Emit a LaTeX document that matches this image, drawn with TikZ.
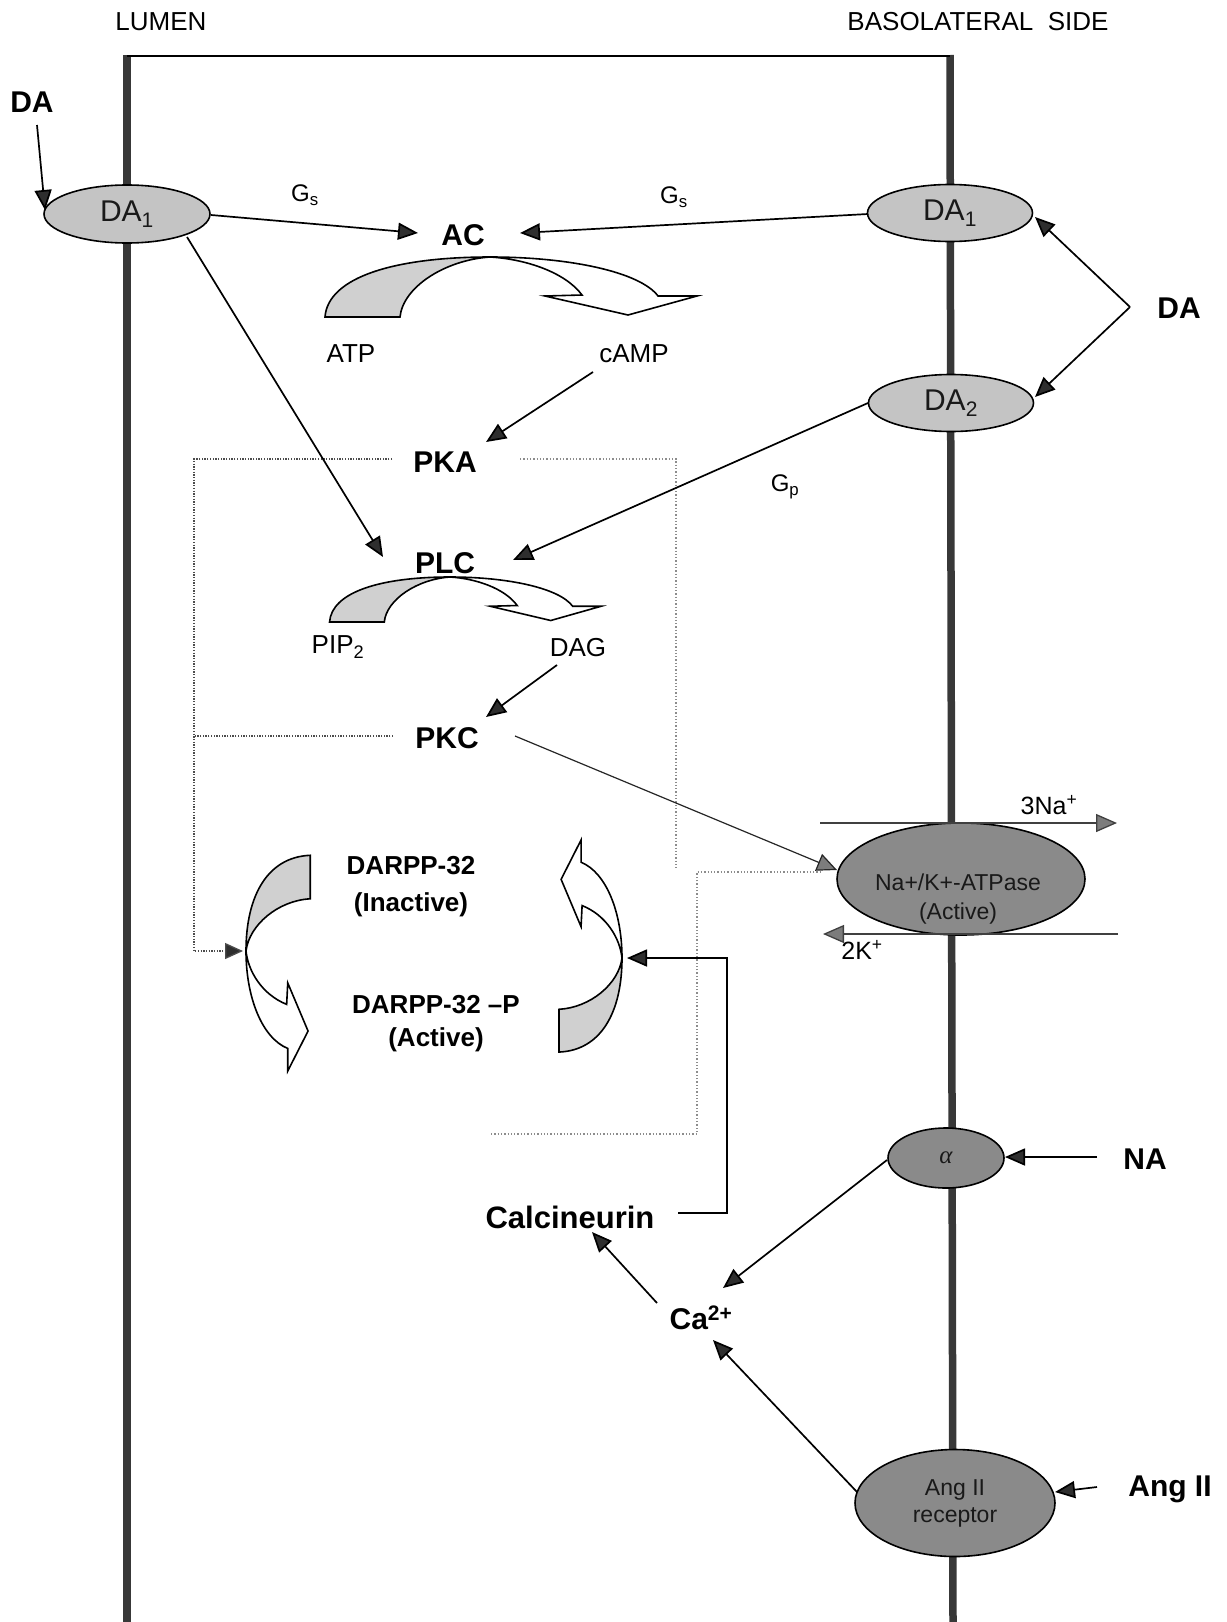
\documentclass[tikz,border=0pt]{standalone}
\usepackage{fontspec}
\setmainfont{Liberation Sans}
\newfontfamily\grserif{Liberation Serif}
\usetikzlibrary{shapes.geometric,arrows.meta,calc}
\definecolor{cLight}{HTML}{C4C4C4}
\definecolor{cDark}{HTML}{8A8A8A}
\definecolor{cMemb}{HTML}{383838}
\definecolor{cTip}{HTML}{2E2E2E}
\definecolor{cGrayTip}{HTML}{7C7C7C}
\definecolor{cShade}{HTML}{D0D0D0}
\newcommand{\twistarrow}{%
 \filldraw[twline, fill=cShade] (-165,60) .. controls (-162,20) and (-95,0) .. (0,0) .. controls (-45,3) and (-87,30) .. (-90,60) -- cycle;
 \filldraw[twline, fill=white] (0,0) .. controls (35,2) and (75,15) .. (92,38) -- (55,39) -- (138,58) -- (207,39) -- (168,39) .. controls (150,15) and (80,0) .. (0,0) -- cycle;
}
\begin{document}
\begin{tikzpicture}[x=1pt,y=-1pt,
  lbl/.style={inner sep=1pt, font=\fontsize{26}{30}\selectfont},
  glbl/.style={inner sep=1pt, font=\fontsize{24}{28}\selectfont},
  blbl/.style={inner sep=1pt, font=\fontsize{30}{34}\selectfont\bfseries},
  dlbl/.style={inner sep=1pt, align=center, font=\fontsize{26}{37}\selectfont\bfseries},
  rec/.style={ellipse, draw=black, line width=1.6pt, fill=cLight, inner sep=0pt,
              font=\fontsize{30}{34}\selectfont, text=black!90},
  drec/.style={rec, fill=cDark, font=\fontsize{23}{27}\selectfont, align=center},
  memb/.style={line width=7.5pt, draw=cMemb},
  arr/.style={line width=1.7pt, draw=black, -{Triangle[length=20pt,width=17pt,fill=cTip]}},
  thinarr/.style={line width=1.2pt, draw=black!85, -{Triangle[length=20pt,width=18pt,fill=cGrayTip]}},
  ionarr/.style={line width=1.3pt, draw=black!75, -{Triangle[length=21pt,width=18pt,fill=cGrayTip]}},
  dots/.style={draw=black!70, line width=1.3pt, dash pattern=on 1.3pt off 1.4pt},
  dotarr/.style={dots, -{Triangle[length=18pt,width=16pt,fill=cTip]}},
  dotsl/.style={draw=black!45, line width=1.2pt, dash pattern=on 1.3pt off 2pt},
  twline/.style={draw=black, line width=1.6pt}
]
\useasboundingbox (0,0) rectangle (1226,1622);
\fill[white] (0,0) rectangle (1226,1622);

% membranes and top line
\draw[memb] (127,55) -- (127,1622);
\draw[memb] (950,55) -- (953,1622);
\draw[line width=1.6pt] (127,56) -- (950,56);

% headings
\node[lbl] (lumen) at (161,22) {LUMEN};
\node[lbl] (baso) at (978,22) {BASOLATERAL\ \ SIDE};

% receptors
\node[rec, minimum width=166pt, minimum height=58pt] (DA1L) at (127,214) {DA\textsubscript{1}};
\node[rec, minimum width=165pt, minimum height=57pt] (DA1R) at (950,213) {DA\textsubscript{1}};
\node[rec, minimum width=165pt, minimum height=57pt] (DA2) at (951,403) {DA\textsubscript{2}};
\node[drec, minimum width=248pt, minimum height=112pt] (NaK) at (961,879) {};
\node[inner sep=0pt, align=center, text=black!90, font=\fontsize{23}{29}\selectfont] (NaKt) at (958,899) {Na+/K+-ATPase\\(Active)};
\node[drec, minimum width=116pt, minimum height=60pt, font=\fontsize{25}{28}\selectfont\grserif\itshape] (alpha) at (946,1158) {α};
\node[drec, minimum width=200pt, minimum height=107pt, font=\fontsize{23}{27}\selectfont] (AngRec) at (955,1503) {Ang II\\receptor};

% labels
\node[blbl] (DAl) at (32,102) {DA};
\node[blbl] (DAr) at (1179,308) {DA};
\node[glbl] (gs1) at (305,195) {G\textsubscript{s}};
\node[glbl] (gs2) at (674,197) {G\textsubscript{s}};
\node[glbl] (gp) at (785,487) {G\textsubscript{p}};
\node[blbl] (AC) at (463,235) {AC};
\node[lbl] (ATP) at (351,354) {ATP};
\node[lbl] (cAMP) at (634,354) {cAMP};
\node[blbl] (PKA) at (445,462) {PKA};
\node[blbl] (PLC) at (445,563) {PLC};
\node[lbl] (PIP) at (338,647) {PIP\textsubscript{2}};
\node[lbl] (DAG) at (578,648) {DAG};
\node[blbl] (PKC) at (447,738) {PKC};
\node[glbl, font=\fontsize{25}{28}\selectfont] (na3) at (1049,805) {3Na\textsuperscript{+}};
\node[glbl, font=\fontsize{25}{28}\selectfont] (k2) at (862,950) {2K\textsuperscript{+}};
\node[dlbl] (darppI) at (411,887) {DARPP-32\\(Inactive)};
\node[dlbl, font=\fontsize{26}{33}\selectfont\bfseries] (darppA) at (436,1024) {DARPP-32 –P\\(Active)};
\node[blbl] (NA) at (1145,1159) {NA};
\node[blbl] (AngII) at (1170,1489) {Ang II};
\node[blbl, font=\fontsize{31}{34}\selectfont\bfseries] (Calc) at (570,1217) {Calcineurin};
\node[blbl] (Ca) at (701,1318) {Ca\textsuperscript{2+}};

% curved (twisted) arrows
\coordinate (xAC) at (490,257);
\coordinate (xPLC) at (450,577);
\coordinate (dL) at (246,951);
\coordinate (dR) at (622,958);
\begin{scope}[shift={(xAC)}, x={(1pt,0pt)}, y={(0pt,-1pt)}]
  \twistarrow
\end{scope}
\begin{scope}[shift={(xPLC)}, x={(0.73pt,0pt)}, y={(0pt,-0.75pt)}]
  \twistarrow
\end{scope}
\begin{scope}[shift={(dL)}, x={(0pt,-0.58pt)}, y={(1.07pt,0pt)}]
  \twistarrow
\end{scope}
\begin{scope}[shift={(dR)}, x={(0pt,0.57pt)}, y={(-1.05pt,0pt)}]
  \twistarrow
\end{scope}

% dotted PKA / PKC links
\coordinate (dotL) at (194,951);
\coordinate (dotR) at (676,868);
\coordinate (dotB) at (491,1134);
\coordinate (dotC) at (697,1134);
\draw[dotarr] ([shift={(-53,-3)}]PKA.center) -| (dotL) -- ([xshift=-3pt]dL);
\path ([shift={(-54,-2)}]PKC.center) coordinate (pkcL);
\draw[dots] (pkcL) -- (dotL |- pkcL);
\draw[dotsl] ([shift={(75,-3)}]PKA.center) -| (dotR);
\draw[dotsl] (dotB) -- (dotC) |- ([shift={(-139,-7)}]NaK.center);

% connectors
\draw[arr] ([shift={(5,23)}]DAl.center) -- ([shift={(-82,-4)}]DA1L.center);
\draw[arr] ([shift={(84,1)}]DA1L.center) -- ([shift={(-45,-2)}]AC.center);
\draw[arr] ([shift={(60,23)}]DA1L.center) -- ([shift={(-62,-6)}]PLC.center);
\draw[arr] ([shift={(-82,1)}]DA1R.center) -- ([shift={(57,-2)}]AC.center);
\draw[arr] ([shift={(-41,18)}]cAMP.center) -- ([shift={(41,-20)}]PKA.center);
\draw[arr] ([shift={(-83,0)}]DA2.center) -- ([shift={(68,-3)}]PLC.center);
\draw[arr] ([shift={(-21,17)}]DAG.center) -- ([shift={(39,-21)}]PKC.center);
\coordinate (daj) at ([shift={(-49,-1)}]DAr.center);
\draw[arr] (daj) -- ([shift={(85,4)}]DA1R.center);
\draw[arr] (daj) -- ([shift={(84,-6)}]DA2.center);
\draw[thinarr] ([shift={(68,-2)}]PKC.center) -- ([shift={(-124,-9)}]NaK.center);
\draw[ionarr] ([shift={(-141,-56)}]NaK.center) -- ([shift={(156,-56)}]NaK.center);
\draw[ionarr] ([shift={(157,55)}]NaK.center) -- ([shift={(-138,55)}]NaK.center);
\draw[arr] ([shift={(-48,-2)}]NA.center) -- ([shift={(59,-1)}]alpha.center);
\draw[arr] ([shift={(-59,2)}]alpha.center) -- ([shift={(22,-30)}]Ca.center);
\draw[arr] ([shift={(-73,-2)}]AngII.center) -- ([shift={(100,-11)}]AngRec.center);
\draw[arr] ([shift={(-98,-11)}]AngRec.center) -- ([shift={(12,22)}]Ca.center);
\draw[arr] ([shift={(-44,-15)}]Ca.center) -- ([shift={(22,15)}]Calc.center);
\coordinate (calcTurn) at (727,958);
\draw[arr] ([shift={(108,-4)}]Calc.center) -| (calcTurn) -- ([xshift=5pt]dR);
\end{tikzpicture}
\end{document}
